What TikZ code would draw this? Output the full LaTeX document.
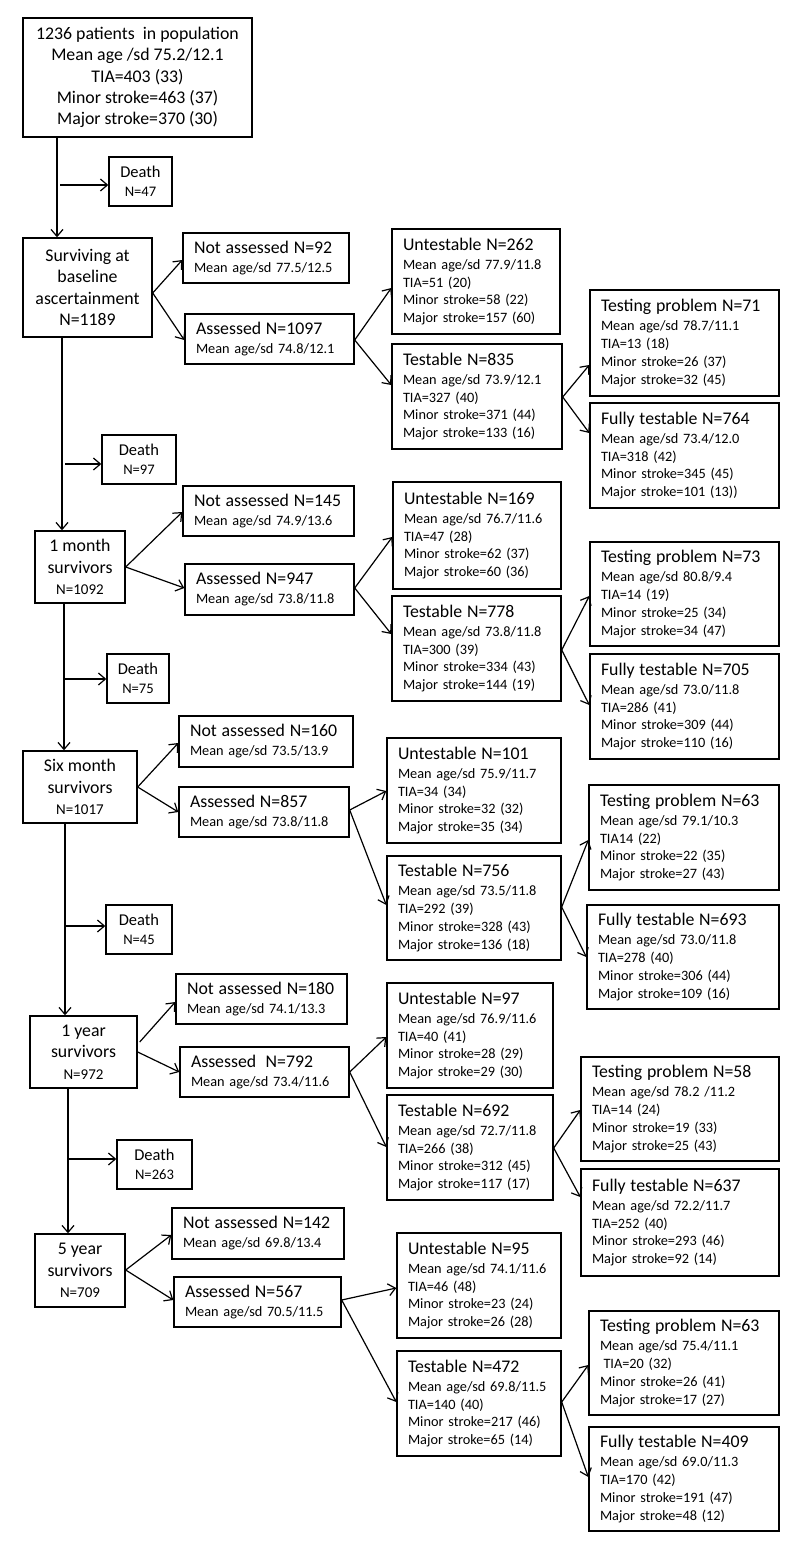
\documentclass[tikz,border=0pt]{standalone}
\usepackage{fontspec}
\setmainfont{Carlito}
\usetikzlibrary{arrows.meta}
\newcommand\hdtxt[1]{{\fontsize{17.8}{21.3}\selectfont #1}}
\begin{document}
\begin{tikzpicture}[x=1pt,y=-1pt,
  bx/.style={draw, line width=1.4pt, inner sep=0pt, align=center, font=\fontsize{17.8}{21.3}\selectfont},
  tbox/.style={draw, line width=1.4pt, inner xsep=11pt, inner ysep=0pt, align=left, font=\fontsize{14.3}{17.7}\selectfont},
  dbox/.style={draw, line width=1.4pt, inner sep=0pt, align=center, font=\fontsize{14.6}{19}\selectfont},
  arr/.style={-{Straight Barb[length=7pt,width=12pt]}, line width=1.2pt},
  ln/.style={line width=1.2pt}]
\fill[white] (0,0) rectangle (800,1549);
\useasboundingbox (0,0) rectangle (800,1549);

% ---- left column ----
\node[bx, minimum width=229pt, minimum height=119pt] (top) at (137.5,77.5)
  {1236 patients\ \ in population\\Mean age /sd 75.2/12.1\\TIA=403 (33)\\Minor stroke=463 (37)\\Major stroke=370 (30)};
\node[dbox, minimum width=63pt, minimum height=49pt] (d1) at (140.5,181.5) {{\fontsize{16.5}{19}\selectfont Death}\\N=47};
\node[bx, minimum width=129pt, minimum height=99pt] (surv) at (87.5,287.5)
  {Surviving at\\baseline\\ascertainment\\N=1189};
\node[dbox, minimum width=74pt, minimum height=49pt] (d2) at (139,459.5) {{\fontsize{16.5}{19}\selectfont Death}\\N=97};
\node[bx, minimum width=90pt, minimum height=72pt] (m1) at (80,567)
  {1 month\\survivors\\{\fontsize{15}{18}\selectfont N=1092}};
\node[dbox, minimum width=62pt, minimum height=49pt] (d3) at (138,678.5) {{\fontsize{16.5}{19}\selectfont Death}\\N=75};
\node[bx, minimum width=114pt, minimum height=72pt] (m6) at (80,787)
  {Six month\\survivors\\{\fontsize{15}{18}\selectfont N=1017}};
\node[dbox, minimum width=66pt, minimum height=49pt] (d4) at (139,929.5) {{\fontsize{16.5}{19}\selectfont Death}\\N=45};
\node[bx, minimum width=107pt, minimum height=72pt] (y1) at (83.5,1052)
  {1 year\\survivors\\{\fontsize{15}{18}\selectfont N=972}};
\node[dbox, minimum width=75pt, minimum height=49pt] (d5) at (154.5,1164.5) {{\fontsize{16.5}{19}\selectfont Death}\\N=263};
\node[bx, minimum width=90pt, minimum height=73pt] (y5) at (80,1270.5)
  {5 year\\survivors\\{\fontsize{15}{18}\selectfont N=709}};

% ---- baseline ----
\node[tbox, minimum height=50pt, text width=144pt] (na1) at (266,258) {\hdtxt{Not assessed N=92}\\[1.3pt]Mean age/sd 77.5/12.5};
\node[tbox, minimum height=50pt, text width=147pt] (as1) at (269.5,339) {\hdtxt{Assessed N=1097}\\[1.3pt]Mean age/sd 74.8/12.1};
\node[tbox, minimum height=105pt, text width=146pt] (un1) at (476,281.5) {\hdtxt{Untestable N=262}\\[1.3pt]Mean age/sd 77.9/11.8\\TIA=51 (20)\\Minor stroke=58 (22)\\Major stroke=157 (60)};
\node[tbox, minimum height=105pt, text width=148pt] (te1) at (477,396.5) {\hdtxt{Testable N=835}\\[1.3pt]Mean age/sd 73.9/12.1\\TIA=327 (40)\\Minor stroke=371 (44)\\Major stroke=133 (16)};
\node[tbox, minimum height=106pt, text width=167pt] (tp1) at (684.5,343) {\hdtxt{Testing problem N=71}\\[1.3pt]Mean age/sd 78.7/11.1\\TIA=13 (18)\\Minor stroke=26 (37)\\Major stroke=32 (45)};
\node[tbox, minimum height=105pt, text width=167pt] (ft1) at (684.5,455.5) {\hdtxt{Fully testable N=764}\\[1.3pt]Mean age/sd 73.4/12.0\\TIA=318 (42)\\Minor stroke=345 (45)\\Major stroke=101 (13))};

% ---- 1 month ----
\node[tbox, minimum height=50pt, text width=149pt] (na2) at (268.5,511) {\hdtxt{Not assessed N=145}\\[1.3pt]Mean age/sd 74.9/13.6};
\node[tbox, minimum height=51pt, text width=147pt] (as2) at (269.5,589.5) {\hdtxt{Assessed N=947}\\[1.3pt]Mean age/sd 73.8/11.8};
\node[tbox, minimum height=107pt, text width=146pt] (un2) at (477,535.5) {\hdtxt{Untestable N=169}\\[1.3pt]Mean age/sd 76.7/11.6\\TIA=47 (28)\\Minor stroke=62 (37)\\Major stroke=60 (36)};
\node[tbox, minimum height=105pt, text width=147pt] (te2) at (476.5,648.5) {\hdtxt{Testable N=778}\\[1.3pt]Mean age/sd 73.8/11.8\\TIA=300 (39)\\Minor stroke=334 (43)\\Major stroke=144 (19)};
\node[tbox, minimum height=104pt, text width=167pt] (tp2) at (684.5,594) {\hdtxt{Testing problem N=73}\\[1.3pt]Mean age/sd 80.8/9.4\\TIA=14 (19)\\Minor stroke=25 (34)\\Major stroke=34 (47)};
\node[tbox, minimum height=105pt, text width=167pt] (ft2) at (684.5,706.5) {\hdtxt{Fully testable N=705}\\[1.3pt]Mean age/sd 73.0/11.8\\TIA=286 (41)\\Minor stroke=309 (44)\\Major stroke=110 (16)};

% ---- 6 months ----
\node[tbox, minimum height=51pt, text width=152pt] (na3) at (266,741.5) {\hdtxt{Not assessed N=160}\\[1.3pt]Mean age/sd 73.5/13.9};
\node[tbox, minimum height=50pt, text width=148pt] (as3) at (264,812) {\hdtxt{Assessed N=857}\\[1.3pt]Mean age/sd 73.8/11.8};
\node[tbox, minimum height=105pt, text width=152pt] (un3) at (474,790.5) {\hdtxt{Untestable N=101}\\[1.3pt]Mean age/sd 75.9/11.7\\TIA=34 (34)\\Minor stroke=32 (32)\\Major stroke=35 (34)};
\node[tbox, minimum height=104pt, text width=152pt] (te3) at (474,908) {\hdtxt{Testable N=756}\\[1.3pt]Mean age/sd 73.5/11.8\\TIA=292 (39)\\Minor stroke=328 (43)\\Major stroke=136 (18)};
\node[tbox, minimum height=105pt, text width=168pt] (tp3) at (684,837.5) {\hdtxt{Testing problem N=63}\\[1.3pt]Mean age/sd 79.1/10.3\\TIA14 (22)\\Minor stroke=22 (35)\\Major stroke=27 (43)};
\node[tbox, minimum height=104pt, text width=170pt] (ft3) at (683,957) {\hdtxt{Fully testable N=693}\\[1.3pt]Mean age/sd 73.0/11.8\\TIA=278 (40)\\Minor stroke=306 (44)\\Major stroke=109 (16)};

% ---- 1 year ----
\node[tbox, minimum height=50pt, text width=149pt] (na4) at (261.5,999) {\hdtxt{Not assessed N=180}\\[1.3pt]Mean age/sd 74.1/13.3};
\node[tbox, minimum height=50pt, text width=147pt] (as4) at (264.5,1072) {\hdtxt{Assessed\ \ N=792}\\[1.3pt]Mean age/sd 73.4/11.6};
\node[tbox, minimum height=105pt, text width=144pt] (un4) at (470,1035.5) {\hdtxt{Untestable N=97}\\[1.3pt]Mean age/sd 76.9/11.6\\TIA=40 (41)\\Minor stroke=28 (29)\\Major stroke=29 (30)};
\node[tbox, minimum height=105pt, text width=144pt] (te4) at (470,1147.5) {\hdtxt{Testable N=692}\\[1.3pt]Mean age/sd 72.7/11.8\\TIA=266 (38)\\Minor stroke=312 (45)\\Major stroke=117 (17)};
\node[tbox, minimum height=104pt, text width=176pt] (tp4) at (680,1109) {\hdtxt{Testing problem N=58}\\[1.3pt]Mean age/sd 78.2 /11.2\\TIA=14 (24)\\Minor stroke=19 (33)\\Major stroke=25 (43)};
\node[tbox, minimum height=107pt, text width=176pt] (ft4) at (680,1222.5) {\hdtxt{Fully testable N=637}\\[1.3pt]Mean age/sd 72.2/11.7\\TIA=252 (40)\\Minor stroke=293 (46)\\Major stroke=92 (14)};

% ---- 5 years ----
\node[tbox, minimum height=51pt, text width=150pt] (na5) at (258,1233.5) {\hdtxt{Not assessed N=142}\\[1.3pt]Mean age/sd 69.8/13.4};
\node[tbox, minimum height=50pt, text width=145pt] (as5) at (257.5,1302) {\hdtxt{Assessed N=567}\\[1.3pt]Mean age/sd 70.5/11.5};
\node[tbox, minimum height=105pt, text width=142pt] (un5) at (479,1285.5) {\hdtxt{Untestable N=95}\\[1.3pt]Mean age/sd 74.1/11.6\\TIA=46 (48)\\Minor stroke=23 (24)\\Major stroke=26 (28)};
\node[tbox, minimum height=105pt, text width=142pt] (te5) at (479,1403.5) {\hdtxt{Testable N=472}\\[1.3pt]Mean age/sd 69.8/11.5\\TIA=140 (40)\\Minor stroke=217 (46)\\Major stroke=65 (14)};
\node[tbox, minimum height=104pt, text width=168pt] (tp5) at (684,1363) {\hdtxt{Testing problem N=63}\\[1.3pt]Mean age/sd 75.4/11.1\\\hspace*{3.5pt}TIA=20 (32)\\Minor stroke=26 (41)\\Major stroke=17 (27)};
\node[tbox, minimum height=104pt, text width=168pt] (ft5) at (684,1479) {\hdtxt{Fully testable N=409}\\[1.3pt]Mean age/sd 69.0/11.3\\TIA=170 (42)\\Minor stroke=191 (47)\\Major stroke=48 (12)};

% ---- main vertical lines ----
\coordinate (x1) at (57,0);
\coordinate (x2) at (62,0);
\coordinate (x3) at (64,0);
\coordinate (x4) at (65,0);
\coordinate (x5) at (68,0);
\draw[arr] (top.south -| x1) -- (surv.north -| x1);
\draw[arr] (surv.south -| x2) -- (m1.north -| x2);
\coordinate (k1) at (62,435);
\coordinate (k2) at (62,490);
\draw[line width=2.6pt] (k1) -- (k2);
\draw[arr] (m1.south -| x3) -- (m6.north -| x3);
\draw[arr] (m6.south -| x4) -- (y1.north -| x4);
\draw[arr] (y1.south -| x5) -- (y5.north -| x5);

% ---- death arrows ----
\coordinate (j1) at (60,185);
\coordinate (j2) at (65,464);
\coordinate (j3) at (64,679);
\coordinate (j4) at (65,926);
\coordinate (j5) at (68,1159);
\draw[arr] (j1) -- (d1.west |- j1);
\draw[arr] (j2) -- (d2.west |- j2);
\draw[arr] (j3) -- (d3.west |- j3);
\draw[arr] (j4) -- (d4.west |- j4);
\draw[arr] (j5) -- (d5.west |- j5);

% ---- fans: baseline ----
\draw[arr] ([yshift=-5.5pt]surv.east) -- ([yshift=-2pt]na1.west);
\draw[arr] ([yshift=-5.5pt]surv.east) -- ([yshift=-1pt]as1.west);
\draw[arr] ([yshift=-1pt]as1.east) -- ([yshift=-6.5pt]un1.west);
\draw[arr] ([yshift=-1pt]as1.east) -- ([yshift=11.5pt]te1.west);
\draw[arr] ([yshift=-0.5pt]te1.east) -- ([yshift=-22pt]tp1.west);
\draw[arr] ([yshift=-0.5pt]te1.east) -- ([yshift=22.5pt]ft1.west);
% ---- fans: 1 month ----
\draw[arr] (m1.east) -- ([yshift=-1pt]na2.west);
\draw[arr] (m1.east) -- ([yshift=1.5pt]as2.west);
\draw[arr] ([yshift=1.5pt]as2.east) -- ([yshift=-1.5pt]un2.west);
\draw[arr] ([yshift=1.5pt]as2.east) -- ([yshift=14.5pt]te2.west);
\draw[arr] ([yshift=-1.5pt]te2.east) -- ([yshift=-2pt]tp2.west);
\draw[arr] ([yshift=-1.5pt]te2.east) -- ([yshift=1.5pt]ft2.west);
% ---- fans: 6 months ----
\draw[arr] (m6.east) -- ([yshift=-1.5pt]na3.west);
\draw[arr] (m6.east) -- (as3.west);
\draw[arr] ([yshift=2pt]as3.east) -- ([yshift=-0.5pt]un3.west);
\draw[arr] ([yshift=2pt]as3.east) -- ([yshift=3pt]te3.west);
\draw[arr] ([yshift=1pt]te3.east) -- ([yshift=-2.5pt]tp3.west);
\draw[arr] ([yshift=1pt]te3.east) -- (ft3.west);
% ---- fans: 1 year ----
\draw[arr] ([xshift=2pt,yshift=10pt]y1.east) -- ([yshift=-3pt]na4.west);
\draw[arr] (y1.east) -- (as4.west);
\draw[arr] (as4.east) -- ([yshift=-1.5pt]un4.west);
\draw[arr] (as4.east) -- ([yshift=0.5pt]te4.west);
\draw[arr] ([yshift=-0.5pt]te4.east) -- ([yshift=-1pt]tp4.west);
\draw[arr] ([yshift=-0.5pt]te4.east) -- ([yshift=25.5pt]ft4.west);
% ---- fans: 5 years ----
\draw[arr] ([yshift=0.5pt]y5.east) -- ([yshift=-1.5pt]na5.west);
\draw[arr] ([yshift=0.5pt]y5.east) -- ([yshift=2pt]as5.west);
\draw[arr] ([yshift=2pt]as5.east) -- ([yshift=-2.5pt]un5.west);
\draw[arr] ([yshift=2pt]as5.east) -- ([yshift=1.5pt]te5.west);
\draw[arr] ([yshift=1.5pt]te5.east) -- ([yshift=-2pt]tp5.west);
\draw[arr] ([yshift=1.5pt]te5.east) -- ([yshift=2pt]ft5.west);
\end{tikzpicture}
\end{document}
